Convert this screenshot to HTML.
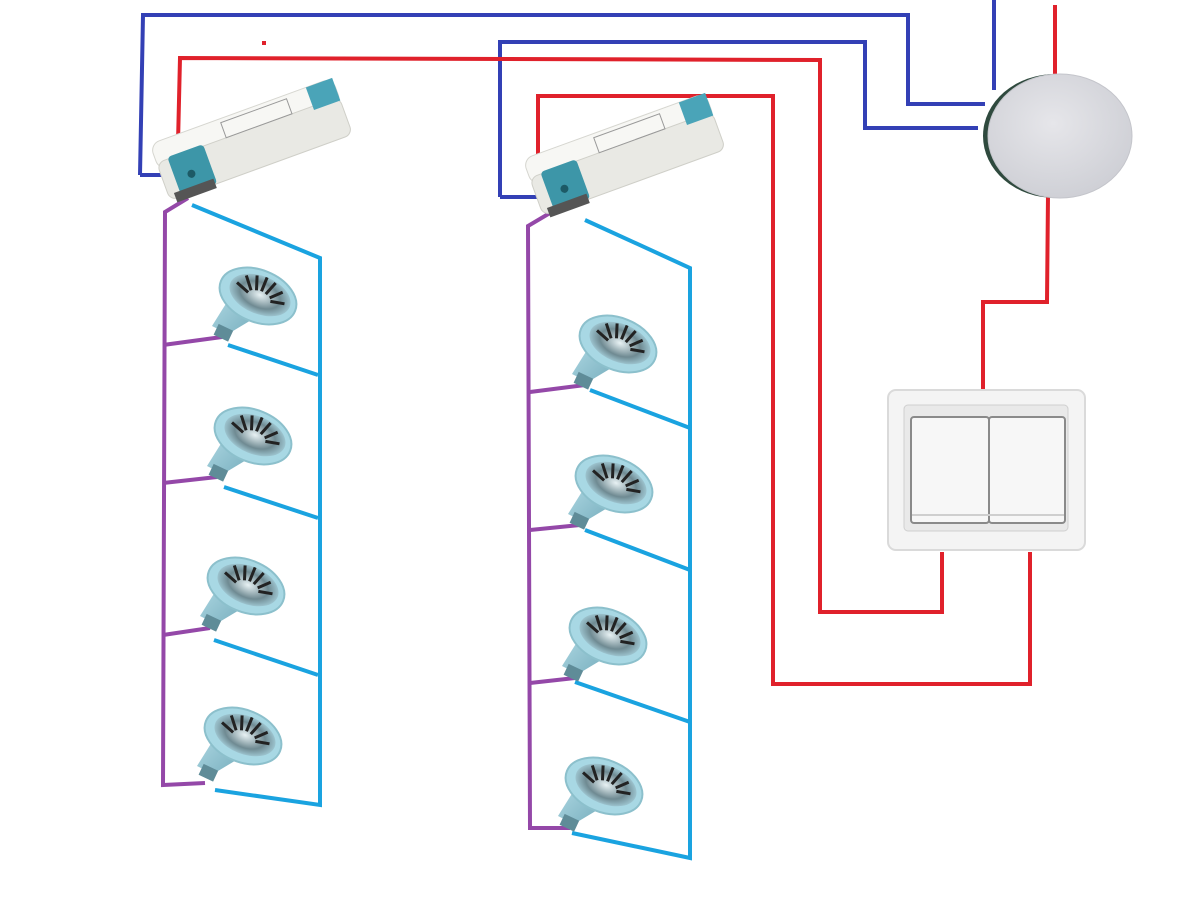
<!DOCTYPE html>
<html><head><meta charset="utf-8"><style>html,body{margin:0;padding:0;background:#fff}svg{display:block}</style></head>
<body>
<svg width="1200" height="900" viewBox="0 0 1200 900" xmlns="http://www.w3.org/2000/svg">
<defs>
<radialGradient id="refl" cx="0.5" cy="0.5" r="0.55">
<stop offset="0" stop-color="#e8f2f4"/><stop offset="0.6" stop-color="#6f8a92"/><stop offset="1" stop-color="#a9d4e0"/>
</radialGradient>
<linearGradient id="cone" x1="0" y1="0" x2="1" y2="1">
<stop offset="0" stop-color="#b9e0ea"/><stop offset="1" stop-color="#6fa8b8"/>
</linearGradient>
<radialGradient id="jb" cx="0.45" cy="0.4" r="0.6">
<stop offset="0" stop-color="#e6e6ea"/><stop offset="1" stop-color="#cfd0d6"/>
</radialGradient>
<g id="lamp">
<polygon points="-8,-14 8,-6 48,-30 22,-62" fill="url(#cone)"/>
<rect x="-8" y="-14" width="16" height="12" fill="#5f8c98" transform="rotate(25)"/>
<ellipse cx="38" cy="-44" rx="40" ry="26" transform="rotate(22 38 -44)" fill="#a8d8e4" stroke="#8cc0cc" stroke-width="2"/>
<ellipse cx="40" cy="-45" rx="32" ry="19" transform="rotate(22 40 -45)" fill="url(#refl)"/>
<g stroke="#222" stroke-width="3" transform="rotate(22 40 -45)">
<line x1="20" y1="-58" x2="30" y2="-46"/><line x1="30" y1="-62" x2="35" y2="-48"/>
<line x1="40" y1="-64" x2="40" y2="-49"/><line x1="50" y1="-62" x2="45" y2="-48"/>
<line x1="60" y1="-56" x2="50" y2="-46"/><line x1="66" y1="-46" x2="52" y2="-43"/>
<line x1="14" y1="-48" x2="28" y2="-43"/>
</g>
</g>
<g id="trafo">
<g transform="rotate(-20)">
<rect x="-4" y="-48" width="194" height="28" rx="10" fill="#f7f7f4" stroke="#d6d6d0"/>
<rect x="-4" y="-28" width="194" height="40" rx="8" fill="#e9e9e4" stroke="#cfcfc8"/>
<rect x="8" y="-30" width="38" height="42" rx="4" fill="#3d96a8"/>
<circle cx="25" cy="-6" r="4" fill="#1d5a66"/>
<rect x="162" y="-48" width="28" height="24" fill="#4aa4b8"/>
<rect x="70" y="-44" width="70" height="16" fill="none" stroke="#999" stroke-width="1"/>
<rect x="2" y="6" width="42" height="10" fill="#555"/>
</g>
</g>
</defs>

<g fill="none" stroke-linejoin="miter" stroke-width="4">
<polyline stroke="#3340b5" points="140,175 143,15 908,15 908,104 985,104"/>
<polyline stroke="#3340b5" points="500,197 500,42 865,42 865,128 978,128"/>
<polyline stroke="#3340b5" points="994,0 994,90"/>
<polyline stroke="#3340b5" points="140,175 168,175"/>
<polyline stroke="#3340b5" points="500,197 540,197"/>
<polyline stroke="#e0212b" points="178,143 180,58 820,60 820,612 942,612 942,552"/>
<polyline stroke="#e0212b" points="538,182 538,96 773,96 773,684 1030,684 1030,552"/>
<polyline stroke="#e0212b" points="1055,5 1055,75"/>
<polyline stroke="#e0212b" points="1048,195 1047,302 983,302 983,392"/>
<polyline stroke="#9448a8" points="188,198 165,212 163,785 205,783"/>
<polyline stroke="#9448a8" points="163,345 222,337"/>
<polyline stroke="#9448a8" points="163,483 217,477"/>
<polyline stroke="#9448a8" points="163,635 210,628"/>
<polyline stroke="#1aa3e0" points="192,205 320,258 320,805 215,790"/>
<polyline stroke="#1aa3e0" points="228,345 318,375"/>
<polyline stroke="#1aa3e0" points="224,487 318,518"/>
<polyline stroke="#1aa3e0" points="214,640 318,675"/>
<polyline stroke="#9448a8" points="555,210 528,226 530,828 570,828"/>
<polyline stroke="#9448a8" points="530,392 585,385"/>
<polyline stroke="#9448a8" points="530,530 580,525"/>
<polyline stroke="#9448a8" points="530,683 575,678"/>
<polyline stroke="#1aa3e0" points="585,220 690,268 690,858 572,833"/>
<polyline stroke="#1aa3e0" points="590,390 690,428"/>
<polyline stroke="#1aa3e0" points="585,530 690,570"/>
<polyline stroke="#1aa3e0" points="575,682 690,722"/>
</g>

<use href="#trafo" transform="translate(170,188)"/>
<use href="#trafo" transform="translate(543,203)"/>

<use href="#lamp" transform="translate(220,340)"/>
<use href="#lamp" transform="translate(215,480)"/>
<use href="#lamp" transform="translate(208,630)"/>
<use href="#lamp" transform="translate(205,780)"/>
<use href="#lamp" transform="translate(580,388)"/>
<use href="#lamp" transform="translate(576,528)"/>
<use href="#lamp" transform="translate(570,680)"/>
<use href="#lamp" transform="translate(566,830)"/>

<ellipse cx="1055" cy="136" rx="72" ry="62" fill="#2f4a3e"/>
<ellipse cx="1060" cy="136" rx="72" ry="62" fill="url(#jb)" stroke="#c4c5cb"/>

<rect x="888" y="390" width="197" height="160" rx="8" fill="#f4f4f4" stroke="#dadada" stroke-width="2"/>
<rect x="904" y="405" width="164" height="126" rx="4" fill="#e9e9e9" stroke="#cfcfcf"/>
<rect x="911" y="417" width="78" height="106" rx="3" fill="#f7f7f7" stroke="#8a8a8a" stroke-width="2"/>
<rect x="989" y="417" width="76" height="106" rx="3" fill="#f7f7f7" stroke="#8a8a8a" stroke-width="2"/>
<line x1="912" y1="515" x2="1064" y2="515" stroke="#cfcfcf" stroke-width="2"/>
<rect x="262" y="41" width="4" height="4" fill="#e0212b"/>
</svg>
</body></html>
